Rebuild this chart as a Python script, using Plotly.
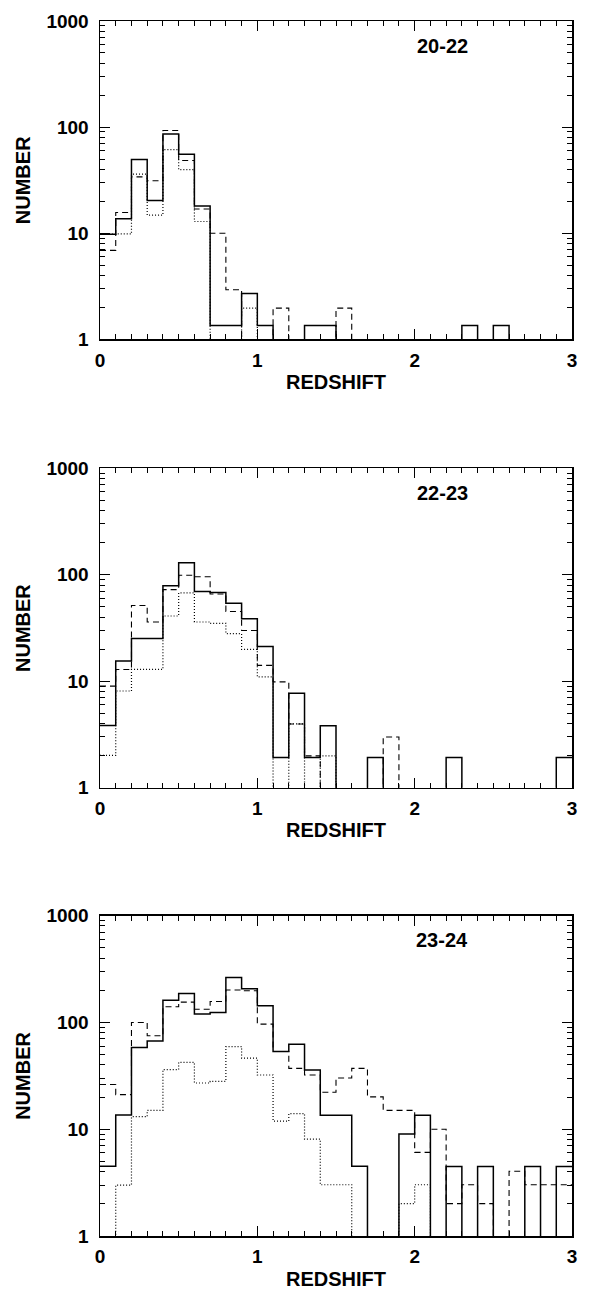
import plotly.graph_objects as go

# Bin edges in redshift (0.0 .. 3.0, width 0.1)
bin_edges = [round(0.1 * i, 1) for i in range(31)]

panel_labels = ["20-22", "22-23", "23-24"]
y_tick_vals = [1, 10, 100, 1000]
y_tick_text = ["1", "10", "100", "1000"]
x_tick_vals = [0, 1, 2, 3]
x_tick_text = ["0", "1", "2", "3"]

# Panel 1 (20-22)
solid_2022 = [9.8, 13.7, 49.6, 20.4, 86, 55.6, 18.1, 1.35, 1.35, 2.7,
              1.35, 0, 0, 1.35, 1.35, 0, 0, 0, 0, 0,
              0, 0, 0, 1.35, 0, 1.35, 0, 0, 0, 0]
dashed_2022 = [6.9, 15.7, 34, 31.2, 93, 48.5, 16.9, 10, 2.94, 0,
               0, 1.97, 0, 0, 0, 1.97, 0, 0, 0, 0,
               0, 0, 0, 0, 0, 0, 0, 0, 0, 0]
dotted_2022 = [9.8, 9.86, 36, 14.8, 61.5, 39.8, 12.9, 0, 0, 1.97,
               0, 0, 0, 0, 0, 0, 0, 0, 0, 0,
               0, 0, 0, 0, 0, 0, 0, 0, 0, 0]

# Panel 2 (22-23)
solid_2223 = [3.83, 15.5, 25.2, 25.2, 79, 130, 69.5, 68, 54, 38.6,
              21.2, 1.92, 7.7, 1.92, 3.81, 0, 0, 1.92, 0, 0,
              0, 0, 1.92, 0, 0, 0, 0, 0, 0, 1.92]
dashed_2223 = [9.0, 12.9, 51.4, 36, 72.5, 99, 95.8, 66, 45.2, 30,
               14.1, 9.86, 3.97, 1.99, 0, 0, 0, 0, 2.99, 0,
               0, 0, 0, 0, 0, 0, 0, 0, 0, 0]
dotted_2223 = [2.01, 8.1, 12.9, 12.9, 41, 67.5, 36, 35, 28, 19.9,
               11, 0, 3.97, 0, 1.99, 0, 0, 0, 0, 0,
               0, 0, 0, 0, 0, 0, 0, 0, 0, 0]

# Panel 3 (23-24)
solid_2324 = [4.5, 13.6, 58.2, 67.1, 161, 187, 120, 124, 264, 207,
              143, 53.4, 62.5, 35.8, 13.5, 13.5, 4.5, 0, 0, 9.0,
              13.5, 0, 4.47, 0, 4.47, 0, 0, 4.47, 0, 4.47]
dashed_2324 = [26.2, 21.1, 100, 75, 140, 155, 133, 157, 201, 198,
               96.5, 53.4, 37.1, 32.2, 22.2, 30.2, 37.1, 20.1, 15.0, 15.0,
               6.07, 10, 2.01, 3.02, 2.01, 0, 4.04, 3.02, 3.02, 3.02]
dotted_2324 = [0, 3.0, 13.1, 15.0, 36.1, 42.2, 27.1, 28.1, 59.4, 46.3,
               32.2, 11.9, 14.0, 8.07, 3.02, 3.02, 0, 0, 0, 2.01,
               3.02, 0, 0, 0, 0, 0, 0, 0, 0, 0]

panels = [
    (solid_2022, dashed_2022, dotted_2022),
    (solid_2223, dashed_2223, dotted_2223),
    (solid_2324, dashed_2324, dotted_2324),
]

FLOOR = 0.05  # zero counts drawn below the log axis (clipped)


def step_y(vals):
    v = [x if x > 0 else FLOOR for x in vals]
    return v + [v[-1]]


W, H = 589, 1289
ML, MR, MT, MB = 100, 17, 11, 53
plot_h = H - MT - MB
# panel pixel extents (top, bottom)
panel_px = [(11, 332), (462, 784), (913, 1236)]

FONT = "Liberation Sans, Arial, Helvetica, sans-serif"

fig = go.Figure()
styles = [
    ("dot", dict(color="black", width=1.2, dash="1px,2px")),
    ("dash", dict(color="black", width=1.1, dash="6px,4px")),
    ("solid", dict(color="black", width=1.5)),
]

minor_log = [m * 10 ** d for d in range(3) for m in range(2, 10)]

layout = dict(
    width=W, height=H,
    margin=dict(l=ML, r=MR, t=MT, b=MB),
    plot_bgcolor="white", paper_bgcolor="white",
    showlegend=False,
    font=dict(family=FONT, color="black"),
)
annotations = []

x_minor = dict(dtick=0.1, tick0=0, ticks="inside", ticklen=5,
               tickwidth=1, tickcolor="black")
y_minor = dict(tickvals=minor_log, ticks="inside", ticklen=5,
               tickwidth=1, tickcolor="black")

for i, (solid, dashed, dotted) in enumerate(panels):
    n = "" if i == 0 else str(i + 1)
    m = str(i + 4)  # mirror axes (top / right) carrying ticks only
    xa, ya = "x" + n, "y" + n
    top, bot = panel_px[i]
    d0 = 1 - (bot - MT) / plot_h
    d1 = 1 - (top - MT) / plot_h
    for (name, line), vals in zip(styles, [dotted, dashed, solid]):
        fig.add_trace(go.Scatter(
            x=bin_edges, y=step_y(vals), mode="lines", line=line,
            line_shape="hv", xaxis=xa, yaxis=ya, hoverinfo="skip"))
    # empty trace so the top/right tick axes are drawn
    fig.add_trace(go.Scatter(x=[], y=[], mode="lines", xaxis="x" + m,
                             yaxis="y" + m, hoverinfo="skip"))
    layout["xaxis" + n] = dict(
        domain=[0, 1], anchor=ya, range=[0, 3],
        tickvals=x_tick_vals, ticktext=x_tick_text,
        ticks="inside", ticklen=10, tickwidth=1.2, tickcolor="black",
        minor=x_minor,
        showline=True, linecolor="black", linewidth=1.5, mirror=True,
        showgrid=False, zeroline=False,
        tickfont=dict(family=FONT, size=19, color="black", weight="bold"),
        ticklabelstandoff=3,
    )
    layout["yaxis" + n] = dict(
        domain=[d0, d1], anchor=xa, type="log", range=[0, 3],
        tickvals=y_tick_vals, ticktext=y_tick_text,
        ticks="inside", ticklen=10, tickwidth=1.2, tickcolor="black",
        minor=y_minor,
        showline=True, linecolor="black", linewidth=1.5, mirror=True,
        showgrid=False, zeroline=False,
        tickfont=dict(family=FONT, size=19, color="black", weight="bold"),
        ticklabelstandoff=6,
    )
    layout["xaxis" + m] = dict(
        overlaying=xa, side="top", anchor="y" + m, range=[0, 3],
        tickvals=x_tick_vals, showticklabels=False,
        ticks="inside", ticklen=10, tickwidth=1.2, tickcolor="black",
        minor=x_minor, showline=False, showgrid=False, zeroline=False,
    )
    layout["yaxis" + m] = dict(
        overlaying=ya, side="right", anchor="x" + m, type="log",
        range=[0, 3], tickvals=y_tick_vals, showticklabels=False,
        ticks="inside", ticklen=10, tickwidth=1.2, tickcolor="black",
        minor=y_minor, showline=False, showgrid=False, zeroline=False,
    )
    annotations.append(dict(
        text=panel_labels[i], xref=xa + " domain", yref=ya + " domain",
        x=(442 - ML) / 472, y=1 - 25 / (bot - top),
        xanchor="center", yanchor="middle", showarrow=False,
        font=dict(family=FONT, size=20, color="black", weight="bold")))
    annotations.append(dict(
        text="REDSHIFT", xref=xa + " domain", yref=ya + " domain",
        x=0.5, y=-43 / (bot - top), xanchor="center", yanchor="middle",
        showarrow=False,
        font=dict(family=FONT, size=20, color="black", weight="bold")))
    annotations.append(dict(
        text="NUMBER", xref="paper", yref=ya + " domain",
        x=(23 - ML) / 472, y=0.5, xanchor="center", yanchor="middle",
        textangle=-90, showarrow=False,
        font=dict(family=FONT, size=20, color="black", weight="bold")))

layout["annotations"] = annotations
fig.update_layout(**layout)
fig.write_html(
    "out.html",
    config={"displayModeBar": False, "staticPlot": True},
    post_script="document.body.style.margin='0';document.body.style.overflow='hidden';",
)
